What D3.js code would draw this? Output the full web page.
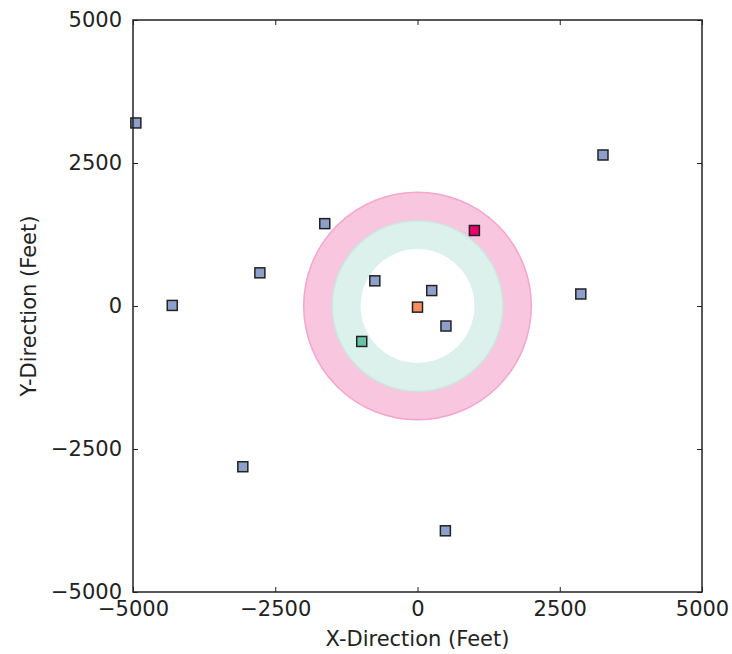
<!DOCTYPE html>
<html>
<head>
<meta charset="utf-8">
<script src="https://cdn.jsdelivr.net/npm/d3@7"></script>
<style>
  body { margin: 0; background: #fff; }
  text { font-family: "DejaVu Sans", sans-serif; fill: #222; }
</style>
</head>
<body>
<script>
// data
const pointsX = [-4950, 3260, -1630, -2770, -750, 250, 500, -4310, 2870, -3070, 490]
const pointsY = [3200, 2640, 1440, 580, 440, 270, -350, 10, 210, -2810, -3930]
const originPoint = [0, -20]
const greenPoint = [-980, -620]
const magentaPoint = [1000, 1320]
const ringRadii = [2000, 1500, 1000]
const ringColors = ['#f9c6df', '#dcf1eb', '#ffffff']
const ringStrokes = ['#f4a6cc', '#c9e8df', 'none']
const tickValues = [-5000, -2500, 0, 2500, 5000]

const w = 732
const h = 654
const margin = { left: 133, right: 30, top: 20, bottom: 62 }

const svg = d3.select('body').append('svg')
    .attr('width', w)
    .attr('height', h)

const x = d3.scaleLinear().domain([-5000, 5000]).range([margin.left, w - margin.right])
const y = d3.scaleLinear().domain([-5000, 5000]).range([h - margin.bottom, margin.top])

// rings, one radius from the x scale so they stay round
svg.selectAll('.ring')
    .data(ringRadii)
    .enter()
    .append('circle')
    .attr('class', 'ring')
    .attr('cx', x(0))
    .attr('cy', y(0))
    .attr('r', d => x(d) - x(0))
    .attr('fill', (d, i) => ringColors[i])
    .attr('stroke', (d, i) => ringStrokes[i])
    .attr('stroke-width', 1.5)

const s = 10
const drawPoints = (data, color) => {
    svg.selectAll(null)
        .data(data)
        .enter()
        .append('rect')
        .attr('x', d => x(d[0]) - s / 2)
        .attr('y', d => y(d[1]) - s / 2)
        .attr('width', s)
        .attr('height', s)
        .attr('fill', color)
        .attr('stroke', '#222')
        .attr('stroke-width', 1.5)
}

drawPoints(pointsX.map((v, i) => [v, pointsY[i]]), '#8da0cb')
drawPoints([originPoint], '#fc8d62')
drawPoints([greenPoint], '#66c2a5')
drawPoints([magentaPoint], '#e8006e')

// frame
svg.append('rect')
    .attr('x', margin.left)
    .attr('y', margin.top)
    .attr('width', w - margin.left - margin.right)
    .attr('height', h - margin.top - margin.bottom)
    .attr('fill', 'none')
    .attr('stroke', '#222')
    .attr('stroke-width', 1.5)

const fmt = d => d < 0 ? '\u2212' + Math.abs(d) : String(d)

const styleAxis = g => {
    g.select('.domain').remove()
    g.selectAll('.tick line').attr('stroke', '#222').attr('stroke-width', 1)
    g.selectAll('.tick text').style('font-size', '21px').attr('fill', '#222')
}

svg.append('g')
    .attr('transform', `translate(0, ${h - margin.bottom})`)
    .call(d3.axisBottom(x).tickValues(tickValues).tickFormat(fmt).tickSizeInner(-5).tickPadding(9))
    .call(styleAxis)

svg.append('g')
    .attr('transform', `translate(0, ${margin.top})`)
    .call(d3.axisTop(x).tickValues(tickValues).tickFormat('').tickSizeInner(-5))
    .call(styleAxis)

svg.append('g')
    .attr('transform', `translate(${margin.left}, 0)`)
    .call(d3.axisLeft(y).tickValues(tickValues).tickFormat(fmt).tickSizeInner(-5).tickPadding(11))
    .call(styleAxis)

svg.append('g')
    .attr('transform', `translate(${w - margin.right}, 0)`)
    .call(d3.axisRight(y).tickValues(tickValues).tickFormat('').tickSizeInner(-5))
    .call(styleAxis)

svg.append('text')
    .attr('x', x(0))
    .attr('y', 646)
    .attr('text-anchor', 'middle')
    .style('font-size', '21px')
    .text('X-Direction (Feet)')

svg.append('text')
    .attr('transform', `translate(36, ${y(0)}) rotate(-90)`)
    .attr('text-anchor', 'middle')
    .style('font-size', '21px')
    .text('Y-Direction (Feet)')
</script>
</body>
</html>
